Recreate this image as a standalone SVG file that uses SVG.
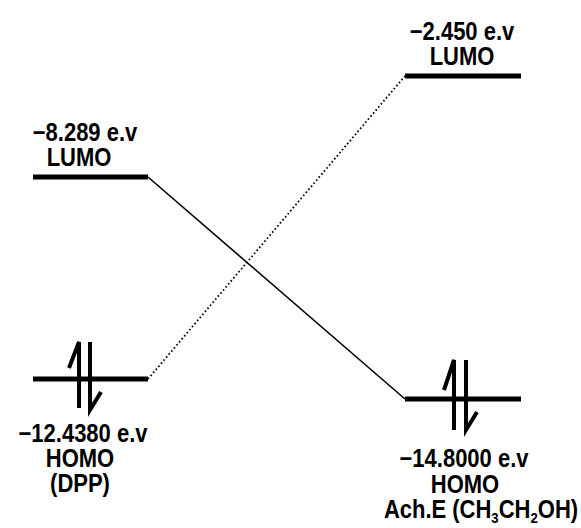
<svg xmlns="http://www.w3.org/2000/svg" width="581" height="528" viewBox="0 0 581 528">
<style>
text{font-family:"Liberation Sans",Arial,sans-serif;font-size:25px;font-weight:bold;fill:#000;text-anchor:middle}
.sub{font-size:15px}
.bar{stroke:#000;stroke-width:5;fill:none}
.spin{stroke:#000;stroke-width:4;fill:none;stroke-linecap:butt}
.solid{stroke:#000;stroke-width:1.6;fill:none}
.dot{stroke:#000;stroke-width:1.8;fill:none;stroke-dasharray:1.6 2.4}
</style>
<rect width="581" height="528" fill="#fff"/>
<g id="connectors">
<line class="solid" x1="148" y1="177" x2="405" y2="399"/>
<line class="dot" x1="148" y1="379" x2="405" y2="76"/>
</g>
<g id="dpp-lumo">
<line class="bar" x1="33" y1="177" x2="148" y2="177"/>
<text transform="translate(85,141) scale(0.88,1)">−8.289 e.v</text>
<text transform="translate(79,166) scale(0.88,1)">LUMO</text>
</g>
<g id="ache-lumo">
<line class="bar" x1="405" y1="76" x2="521" y2="76"/>
<text transform="translate(462,40) scale(0.88,1)">−2.450 e.v</text>
<text transform="translate(462,65) scale(0.88,1)">LUMO</text>
</g>
<g id="dpp-homo">
<line class="bar" x1="33" y1="379" x2="148" y2="379"/>
<path class="spin" d="M79,408 V342 L69,368 M90,342 V410 L101,392"/>
<text transform="translate(83,442) scale(0.88,1)">−12.4380 e.v</text>
<text transform="translate(80,467) scale(0.88,1)">HOMO</text>
<text transform="translate(80,492) scale(0.88,1)">(DPP)</text>
</g>
<g id="ache-homo">
<line class="bar" x1="405" y1="399" x2="521" y2="399"/>
<path class="spin" d="M454,430 V360 L444,390 M466,360 V430 L477,412"/>
<text transform="translate(464,467) scale(0.88,1)">−14.8000 e.v</text>
<text transform="translate(465,493) scale(0.88,1)">HOMO</text>
<text transform="translate(481,518) scale(0.88,1)">Ach.E (CH<tspan class="sub" dy="5">3</tspan><tspan dy="-5">CH</tspan><tspan class="sub" dy="5">2</tspan><tspan dy="-5">OH)</tspan></text>
</g>
</svg>
